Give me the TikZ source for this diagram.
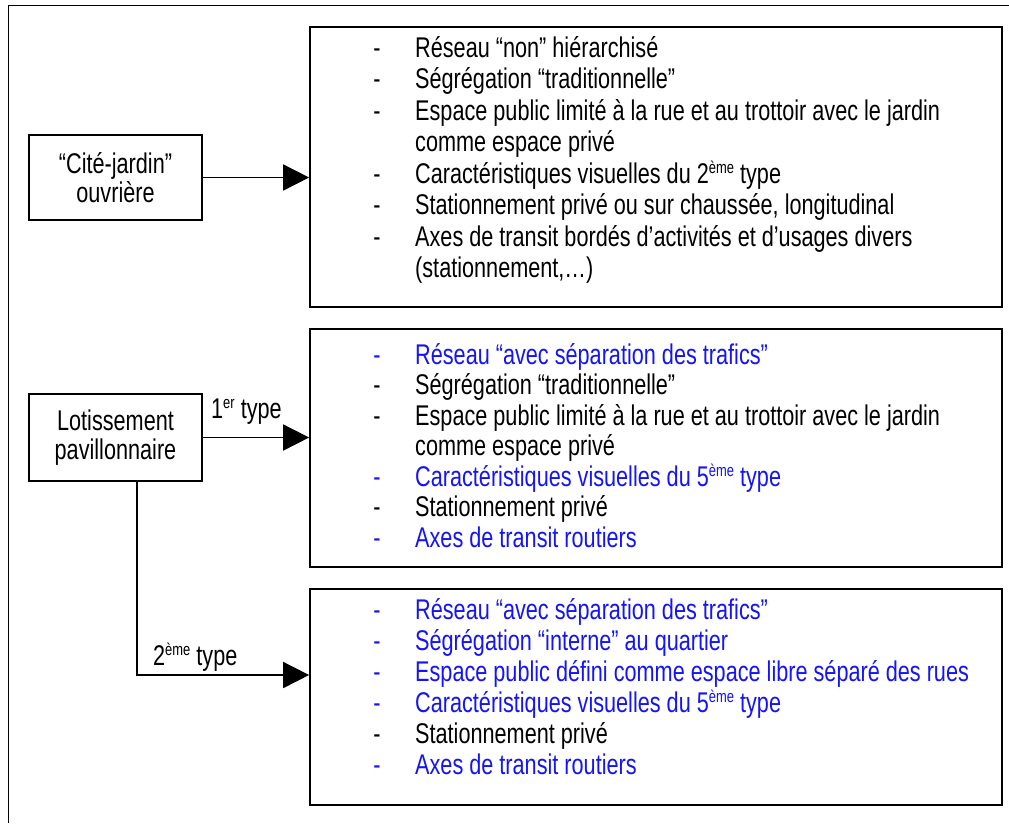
\documentclass[tikz,border=0pt]{standalone}
\usepackage{fontspec}
\setmainfont{Liberation Sans}[FakeStretch=0.76]
\usetikzlibrary{arrows.meta}
\definecolor{itblue}{RGB}{20,20,245}
\newcommand\txtsize{\fontsize{28.5}{28.5}\selectfont}
\newcommand\sps[1]{\raisebox{9.5pt}{\fontsize{17}{17}\selectfont #1}}
\newcommand\Ln[4]{%
  \node[bul,text=#3] (#1d) at (377,#2) {-};
  \node[itm,text=#3] (#1) at (415,#2) {#4};}
\newcommand\Lc[4]{%
  \node[itm,text=#3] (#1) at (415,#2) {#4};}
\begin{document}
\begin{tikzpicture}[x=1pt,y=-1pt,
  box/.style={draw=black,line width=1.7pt,inner sep=0pt,fill=white},
  lbox/.style={box,minimum width=173pt,align=center,font=\txtsize},
  rbox/.style={box,minimum width=692pt},
  itm/.style={anchor=base west,inner sep=0pt,font=\txtsize},
  bul/.style={anchor=base,inner sep=0pt,font=\txtsize},
  lab/.style={anchor=base west,inner sep=0pt,font=\txtsize},
  conn/.style={line width=1.7pt},
  arr/.style={conn,-{Triangle[length=26pt,width=26pt]}}]
\useasboundingbox (0,0) rectangle (1009,823);
\fill[white] (0,0) rectangle (1009,823);
% outer frame
\coordinate (fbl) at (8,823);
\coordinate (ftl) at (8,5);
\coordinate (ftr) at (1009,5);
\draw[line width=1pt] (fbl) -- (ftl) -- (ftr);
% left boxes
\node[lbox,minimum height=85pt] (A) at (115.5,177.5) {“Cité-jardin”\\ouvrière};
\node[lbox,minimum height=87pt] (B) at (115.5,437.5) {Lotissement\\pavillonnaire};
% right boxes
\node[rbox,minimum height=280pt] (R1) at (656,167) {};
\node[rbox,minimum height=238pt] (R2) at (656,448) {};
\node[rbox,minimum height=216pt] (R3) at (656,697) {};
% connectors
\draw[arr] (A.east) -- (A.east -| R1.west);
\draw[arr] (B.east) -- (B.east -| R2.west);
\coordinate (bend) at (137,675);
\draw[arr] (B.south -| bend) -- (bend) -- (bend -| R3.west);
\node[lab] (t1) at (211,418) {1\sps{er} type};
\node[lab] (t2) at (153,665) {2\sps{ème} type};
% box 1 text
\Ln{a1}{57}{black}{Réseau “non” hiérarchisé}
\Ln{a2}{88.5}{black}{Ségrégation “traditionnelle”}
\Ln{a3}{120}{black}{Espace public limité à la rue et au trottoir avec le jardin}
\Lc{a4}{151.5}{black}{comme espace privé}
\Ln{a5}{183}{black}{Caractéristiques visuelles du 2\sps{ème} type}
\Ln{a6}{214.5}{black}{Stationnement privé ou sur chaussée, longitudinal}
\Ln{a7}{246}{black}{Axes de transit bordés d’activités et d’usages divers}
\Lc{a8}{277.5}{black}{(stationnement,…)}
% box 2 text
\Ln{b1}{364}{itblue}{Réseau “avec séparation des trafics”}
\Ln{b2}{394.5}{black}{Ségrégation “traditionnelle”}
\Ln{b3}{425}{black}{Espace public limité à la rue et au trottoir avec le jardin}
\Lc{b4}{455.5}{black}{comme espace privé}
\Ln{b5}{486}{itblue}{Caractéristiques visuelles du 5\sps{ème} type}
\Ln{b6}{516.5}{black}{Stationnement privé}
\Ln{b7}{547}{itblue}{Axes de transit routiers}
% box 3 text
\Ln{c1}{619}{itblue}{Réseau “avec séparation des trafics”}
\Ln{c2}{650}{itblue}{Ségrégation “interne” au quartier}
\Ln{c3}{681}{itblue}{Espace public défini comme espace libre séparé des rues}
\Ln{c4}{712}{itblue}{Caractéristiques visuelles du 5\sps{ème} type}
\Ln{c5}{743}{black}{Stationnement privé}
\Ln{c6}{774}{itblue}{Axes de transit routiers}
\end{tikzpicture}
\end{document}
